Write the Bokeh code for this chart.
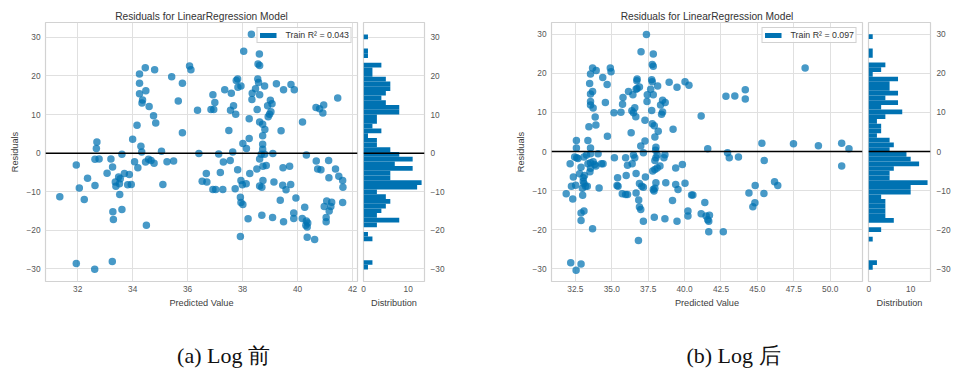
import numpy as np
from bokeh.plotting import figure
from bokeh.layouts import row, column
from bokeh.models import (Range1d, FixedTicker, CustomJSTickFormatter, Span,
                          Legend, LegendItem, Label)
from bokeh.embed import file_html
from bokeh.resources import INLINE
from bokeh.core.properties import value

# ---------------- data ----------------
TITLE = "Residuals for LinearRegression Model"
X_LABEL = "Predicted Value"
Y_LABEL = "Residuals"
HIST_LABEL = "Distribution"
captions = ["(a) Log 前", "(b) Log 后"]
a_legend = "Train R\u00b2 = 0.043"
b_legend = "Train R\u00b2 = 0.097"

a_xticks = [32, 34, 36, 38, 40, 42]
b_xticks = [32.5, 35.0, 37.5, 40.0, 42.5, 45.0, 47.5, 50.0]
resid_ticks = [-30, -20, -10, 0, 10, 20, 30]
hist_ticks = [0, 10]

a_pred = [
    32.70, 32.68, 33.21, 33.61, 34.00, 34.16, 34.30, 34.33, 34.25, 34.25, 34.25, 34.46, 34.80,
    34.48, 34.36, 34.34, 34.60, 34.76, 34.84, 35.05, 35.42, 35.66, 35.81, 35.81, 36.07, 36.12,
    36.36, 36.41, 36.85, 36.95, 36.99, 36.92, 37.13, 37.35, 37.59, 37.56, 37.67, 37.75, 37.50,
    37.64, 37.82, 37.77, 37.83,
    38.32, 38.04, 38.61, 38.56, 38.62, 37.94, 38.55, 38.58, 38.80, 39.23, 39.49, 39.76, 39.88,
    38.35, 38.62, 38.47, 38.34, 39.01, 39.07, 38.91, 38.53, 39.03, 38.98, 38.93, 40.67, 40.80,
    40.95, 41.46, 40.92, 38.24, 38.62, 38.73, 40.18, 38.81, 39.40, 38.73, 38.24, 38.01, 38.73,
    38.73, 38.14, 39.10, 38.68, 38.80, 40.32, 40.68, 41.13,
    31.35, 31.95, 32.06, 32.24, 32.36, 32.63, 32.63, 32.78, 31.95, 32.62, 33.26, 33.07, 33.27,
    33.28, 33.30, 33.61, 33.37, 33.39, 33.49, 33.55, 33.52, 33.70, 33.88, 33.82, 33.95, 33.53,
    34.07, 34.19, 34.50, 34.47, 34.58, 34.67, 34.78, 35.10, 35.25, 35.49, 36.53, 36.68, 36.70,
    36.92, 37.02, 37.19, 37.28, 37.30, 37.55, 37.82, 37.73,
    38.62, 38.86, 38.52, 38.74, 38.26, 39.47, 39.71, 40.73, 40.85, 41.38, 41.14, 41.50, 41.64,
    37.94, 37.99, 38.13, 38.74, 38.62, 38.70, 39.14, 39.46, 39.75, 39.58, 41.65, 37.92, 37.94,
    38.01, 39.37, 39.94, 40.26, 41.06, 41.24, 40.97, 41.21, 41.15, 41.64, 39.86, 38.70, 39.09,
    38.20, 39.86, 39.49, 40.17, 40.32, 40.37, 40.30, 40.35, 41.04, 41.04, 37.92, 40.35, 40.62,
]
a_resid = [
    2.9, 1.2, -1.5, -0.3, 3.6, 7.2, 1.8, 0.3, 18.1, 15.4, 20.5, 22.1, 21.6,
    16.2, 13.8, 13.0, 12.1, 9.7, 7.8, 0.5, 19.8, 13.5, 18.1, 5.3, 22.6, 21.6,
    11.1, -0.1, 11.3, 11.3, 13.1, 15.1, -0.2, 16.4, 15.5, 11.1, 12.3, 10.1, 5.9,
    0.3, 19.2, 18.8, 17.1,
    30.8, 26.4, 25.7, 23.1, 22.7, 17.4, 19.2, 18.3, 17.4, 18.0, 16.4, 17.8, 16.4,
    15.5, 15.1, 16.7, 13.9, 13.7, 12.8, 12.3, 11.3, 10.7, 10.1, 9.4, 11.8, 11.5,
    12.5, 14.3, 10.4, 8.9, 8.1, 7.5, 8.1, 6.1, 5.8, 4.5, 3.8, 2.5, 2.3,
    1.0, 1.2, -0.1, -0.3, -0.3, -0.5, -2.0, -1.9,
    -11.3, -3.1, -9.0, -12.0, -6.5, -8.4, -1.6, -1.5, -28.6, -30.1, -28.1, -5.2, -3.6,
    -15.2, -17.2, -14.6, -7.5, -8.6, -6.2, -6.6, -7.9, -5.3, -5.5, -8.2, -8.1, -10.7,
    -2.2, -3.8, -18.7, -2.3, -1.6, -1.9, -2.6, -8.1, -2.2, -2.0, -7.3, -5.3, -7.5,
    -9.4, -9.4, -5.0, -9.4, -2.3, -1.9, -4.3, -9.2,
    -1.5, -3.2, -4.1, -3.4, -5.3, -3.8, -3.4, -4.1, -4.3, -4.1, -6.4, -6.0, -7.1,
    -7.1, -8.2, -7.9, -7.1, -8.5, -8.8, -7.5, -8.3, -8.1, -9.5, -8.8, -11.4, -12.8,
    -13.3, -12.2, -11.6, -14.0, -12.4, -12.7, -13.8, -13.8, -15.0, -12.8, -15.5, -16.1, -16.7,
    -17.0, -16.9, -17.8, -16.9, -17.6, -18.1, -18.7, -19.1, -16.7, -17.8, -21.6, -21.8, -22.4,
]

b_pred = [
    32.57, 32.57, 33.36, 33.54, 33.43, 33.91, 33.86, 33.72, 33.54, 33.54, 33.68, 33.54, 33.48,
    33.54, 33.68, 33.93, 34.38, 34.68, 34.56, 34.70, 34.90, 34.95, 35.15, 35.63, 35.77, 35.74,
    36.15, 36.45, 36.38, 36.49, 36.58, 36.65, 36.33, 36.67, 36.74, 36.72, 36.74, 36.90, 37.01,
    37.38, 37.28, 36.99, 37.28, 37.42, 37.44, 37.67, 37.74, 37.78, 37.74, 37.78, 37.92, 37.78,
    37.85, 37.85, 37.85, 38.15, 37.96, 38.19, 38.03, 38.01, 38.42, 38.49, 38.49, 38.67, 38.35,
    38.94, 39.21, 39.48, 40.03, 40.30, 41.14, 41.59, 42.84, 43.45,
    44.17, 44.17, 48.28, 45.31, 47.48, 49.19, 50.79, 51.29,
    31.87, 32.14, 32.23, 32.32, 32.36, 32.52, 32.45, 32.59, 32.68, 32.79, 32.89, 33.09, 33.27,
    33.04, 33.04, 33.09, 33.13, 33.20, 33.32, 32.98, 33.00, 32.89, 33.09, 32.89, 33.68, 32.18,
    32.55, 32.89, 33.36, 33.54, 33.72, 33.82, 33.91, 33.54, 33.50, 34.13, 34.29, 34.40, 33.54,
    34.06, 35.18, 35.40, 35.36, 35.43, 35.72, 35.95, 36.08, 35.95, 35.99, 36.08, 36.40, 36.49,
    36.58, 36.67, 36.67, 36.85, 36.90, 37.06, 37.17, 36.90, 36.99, 37.31, 37.17, 36.83, 37.17,
    37.81, 37.96, 38.12, 38.31, 37.85, 37.90, 37.96, 38.03, 37.92, 38.03, 37.96, 38.12, 38.58,
    38.65, 38.71, 38.65, 39.17, 39.39, 39.39, 39.55, 39.48, 39.85, 40.03, 40.23, 40.23, 40.48,
    40.57, 41.39, 41.14, 41.48, 41.59, 41.71, 41.66, 41.66, 42.66, 42.95, 43.07, 43.70,
    45.47, 50.79, 44.42, 44.85, 45.45, 44.83, 44.69, 46.18, 46.40,
]
b_resid = [
    2.8, 0.9, 2.8, 0.9, 6.3, 6.8, 8.8, 11.1, 11.9, 12.8, 15.3, 14.7, 17.4,
    19.8, 21.3, 20.7, 18.9, 17.1, 12.5, 3.9, 21.3, 20.4, 9.9, 10.0, 13.8, 12.1,
    15.3, 14.5, 10.4, 9.9, 11.2, 8.9, 4.8, 15.9, 16.1, 18.1, 18.5, 16.5, 25.5,
    29.9, 8.0, 1.4, 2.7, 12.8, 14.5, 15.9, 18.3, 17.8, 10.5, 7.1, 6.6, 22.2,
    21.8, 24.9, 14.5, 16.7, 3.7, 5.2, 1.1, 0.3, 9.5, 10.1, 13.1, 12.5, 11.9,
    17.7, 5.7, 16.4, 17.8, 16.9, 9.1, 0.7, 14.1, 14.2,
    15.8, 13.4, 21.3, 2.1, 2.0, 1.5, 2.1, 0.7,
    -10.8, -3.1, -8.9, -12.1, -6.5, -8.6, -1.4, -1.6, -1.8, -5.7, -4.0, -1.4, -0.9,
    -6.7, -7.6, -8.2, -6.1, -8.9, -8.9, -9.4, -11.2, -15.7, -15.2, -17.6, -19.7, -28.4,
    -30.3, -28.7, -3.1, -2.9, -2.6, -3.3, -3.7, -4.3, -5.2, -9.3, -3.1, -3.1, -0.6,
    -0.6, -1.6, -6.7, -8.7, -8.9, -10.8, -11.0, -11.0, -1.6, -6.1, -3.5, -3.1, -0.9,
    -1.6, -5.6, -10.6, -12.4, -8.2, -8.9, -9.1, -14.2, -14.8, -6.5, -17.8, -22.7, -0.3,
    -5.0, -4.6, -4.2, -3.7, -9.7, -10.1, -9.4, -8.0, -16.8, -1.6, -2.3, -0.9, -1.6,
    -0.8, -8.0, -17.2, -12.5, -4.2, -8.4, -9.7, -17.8, -3.3, -8.1, -15.2, -16.5, -11.1,
    -11.1, -13.0, -15.9, -16.5, -17.4, -16.3, -17.8, -20.5, -20.5, -0.3, -1.6, -1.4,
    -2.3, -3.7, -10.6, -8.7, -10.7, -13.1, -14.1, -7.7, -8.7,
]

# histogram counts, 50 bins, listed from the lowest residual bin upward
a_hist_counts = [1, 2, 0, 0, 0, 0, 2, 1, 0, 3, 8, 3, 4, 5, 6, 5, 3, 12, 13, 6,
                 6, 11, 7, 11, 8, 6, 3, 3, 1, 4, 2, 3, 3, 8, 8, 5, 4, 5, 6, 6,
                 5, 2, 2, 4, 0, 1, 1, 0, 0, 1]
b_hist_counts = [1, 2, 0, 0, 0, 0, 1, 0, 3, 0, 6, 4, 4, 4, 4, 3, 10, 10, 14, 5,
                 5, 6, 12, 10, 9, 5, 6, 5, 2, 3, 3, 2, 4, 8, 3, 7, 4, 7, 5, 5,
                 7, 1, 3, 4, 0, 1, 1, 0, 0, 1]
a_hist_span = [-30.15, 30.75]
b_hist_span = [-30.2, 29.95]

# axis limits
a_xlim, a_ylim, a_hlim = (30.83, 42.18), (-33.25, 33.85), (0, 13.65)
b_xlim, b_ylim, b_hlim = (30.86, 52.22), (-33.2, 32.95), (0, 14.7)

# ---------------- style ----------------
FONT = "Liberation Sans"
BLUE = "#0072B2"
GRID = "#e0e0e0"
OUTLINE = "#d2d2d2"
TICK_TXT = "#555555"
LABEL_TXT = "#404040"
ROW_H = 322
TOP, BOTTOM = 22, 41
CAP_H = 50


def fmt(decimals):
    return CustomJSTickFormatter(code=(
        "const s = Math.abs(tick).toFixed(%d);"
        "return (tick < 0 ? '\\u2212' : '') + s;" % decimals))


def style_axes(fig):
    for ax in fig.axis:
        ax.axis_line_color = None
        ax.major_tick_line_color = None
        ax.minor_tick_line_color = None
        ax.major_tick_out = 0
        ax.major_tick_in = 0
        ax.major_label_text_font = FONT
        ax.major_label_text_font_size = "8.3px"
        ax.major_label_text_color = TICK_TXT
        ax.axis_label_text_font = FONT
        ax.axis_label_text_font_size = "9.2px"
        ax.axis_label_text_font_style = "normal"
        ax.axis_label_text_color = LABEL_TXT
        ax.axis_label_standoff = 3
    fig.grid.grid_line_color = GRID
    fig.grid.grid_line_width = 1
    fig.outline_line_color = OUTLINE
    fig.outline_line_width = 1.2
    fig.background_fill_color = "white"
    fig.border_fill_color = "white"


def panel(pred, resid, counts, span, legend_label, xticks, dec, xlim, ylim, hlim,
          main_w, main_l, main_r, hist_w, hist_l, hist_r):
    yr = Range1d(*ylim)
    p = figure(width=main_w, height=ROW_H, x_range=Range1d(*xlim), y_range=yr,
               toolbar_location=None, output_backend="svg", title=TITLE,
               min_border_left=main_l, min_border_right=main_r,
               min_border_top=TOP, min_border_bottom=BOTTOM)
    p.title.text_font = FONT
    p.title.text_font_size = "10.2px"
    p.title.text_font_style = "normal"
    p.title.text_color = "#333333"
    p.title.align = "center"
    p.title.standoff = 2
    p.xaxis.axis_label = X_LABEL
    p.yaxis.axis_label = Y_LABEL
    p.xaxis.ticker = FixedTicker(ticks=xticks)
    p.yaxis.ticker = FixedTicker(ticks=resid_ticks)
    p.xaxis.formatter = fmt(dec)
    p.yaxis.formatter = fmt(0)
    style_axes(p)
    p.xaxis.major_label_standoff = 4
    p.yaxis.major_label_standoff = 5

    p.scatter(pred, resid, size=7.5, fill_color=BLUE, fill_alpha=0.72, line_color=None)
    p.add_layout(Span(location=0, dimension="width", line_color="black", line_width=1.5))

    # legend key: a thick line segment drawn only inside the legend
    dummy = p.line(x=[np.nan], y=[np.nan], line_color=BLUE, line_width=5)
    leg = Legend(items=[LegendItem(label=value(legend_label), renderers=[dummy])],
                 location="top_right", margin=5, padding=2, spacing=0,
                 glyph_width=17, glyph_height=10, label_height=10, label_standoff=9,
                 label_text_font=FONT, label_text_font_size="8.8px",
                 label_text_color="#333333", border_line_color="#cccccc",
                 border_line_alpha=0.9, background_fill_alpha=0.85)
    p.add_layout(leg)

    h = figure(width=hist_w, height=ROW_H, x_range=Range1d(*hlim), y_range=yr,
               y_axis_location="right", toolbar_location=None, output_backend="svg",
               min_border_left=hist_l, min_border_right=hist_r,
               min_border_top=TOP, min_border_bottom=BOTTOM)
    edges = np.linspace(span[0], span[1], len(counts) + 1)
    h.quad(left=0, right=counts, bottom=edges[:-1], top=edges[1:],
           fill_color=BLUE, line_color=None)
    h.add_layout(Span(location=0, dimension="width", line_color="black", line_width=1.5))
    h.xaxis.axis_label = HIST_LABEL
    h.xaxis.ticker = FixedTicker(ticks=hist_ticks)
    h.yaxis.ticker = FixedTicker(ticks=resid_ticks)
    h.xaxis.formatter = fmt(0)
    h.yaxis.formatter = fmt(0)
    style_axes(h)
    h.xgrid.grid_line_color = None
    h.xaxis.major_label_standoff = 4
    h.yaxis.major_label_standoff = 6
    return p, h


pa, ha = panel(a_pred, a_resid, a_hist_counts, a_hist_span, a_legend, a_xticks, 0,
               a_xlim, a_ylim, a_hlim, 360, 45, 3, 120, 3, 56)
pb, hb = panel(b_pred, b_resid, b_hist_counts, b_hist_span, b_legend, b_xticks, 1,
               b_xlim, b_ylim, b_hlim, 386, 71, 4, 92, 2, 28)

cap = figure(width=958, height=CAP_H, x_range=Range1d(0, 958), y_range=Range1d(0, CAP_H),
             toolbar_location=None, output_backend="svg", x_axis_type=None,
             y_axis_type=None, min_border=0)
cap.outline_line_color = None
cap.background_fill_color = "white"
cap.border_fill_color = "white"
for txt, cx in zip(captions, [223, 733]):
    cap.add_layout(Label(x=cx, y=CAP_H - 33, text=txt, text_align="center",
                         text_baseline="middle", text_font="Liberation Serif",
                         text_font_size="22px", text_color="#111111"))

layout = column(row(pa, ha, pb, hb, spacing=0), cap, spacing=0)

with open("out.html", "w", encoding="utf-8") as f:
    f.write(file_html(layout, INLINE))
